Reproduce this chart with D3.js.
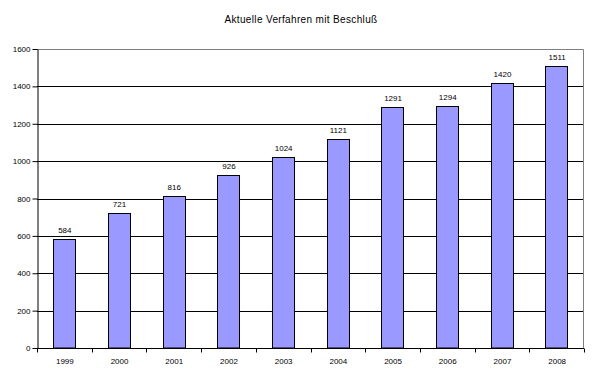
<!DOCTYPE html>
<html>
<head>
<meta charset="utf-8">
<script src="https://cdn.jsdelivr.net/npm/d3@7"></script>
<style>
body { margin: 0; background: #fff; }
text { font-family: "Liberation Sans", Arial, sans-serif; }
</style>
</head>
<body>
<svg width="605" height="377"></svg>
<script>
const years = ["1999", "2000", "2001", "2002", "2003", "2004", "2005", "2006", "2007", "2008"];
const values = [584, 721, 816, 926, 1024, 1121, 1291, 1294, 1420, 1511];
const yTicks = [0, 200, 400, 600, 800, 1000, 1200, 1400, 1600];

const width = 605;
const height = 377;
const margin = { top: 49, right: 21, bottom: 29, left: 37 };

const svg = d3.select("svg");

const x = d3.scaleBand()
    .domain(years)
    .range([margin.left, width - margin.right])
    .paddingInner(0.59)
    .paddingOuter(0.295);

const y = d3.scaleLinear()
    .domain([0, 1600])
    .range([height - margin.bottom, margin.top]);

// title
svg.append("text")
    .attr("x", 301)
    .attr("y", 23)
    .attr("text-anchor", "middle")
    .attr("font-size", 10)
    .attr("letter-spacing", 0.35)
    .text("Aktuelle Verfahren mit Beschluß");

// gridlines
svg.append("g")
    .selectAll("line")
    .data(yTicks.filter(t => t > 0 && t < 1600))
    .enter().append("line")
    .attr("x1", margin.left)
    .attr("x2", width - margin.right)
    .attr("y1", d => Math.round(y(d)) + 0.5)
    .attr("y2", d => Math.round(y(d)) + 0.5)
    .attr("stroke", "#000");

// plot border top/right
svg.append("path")
    .attr("d", `M${margin.left},${y(1600) + 0.5}H${width - margin.right - 0.5}V${y(0)}`)
    .attr("fill", "none")
    .attr("stroke", "#808080");

// bars
svg.append("g")
    .selectAll("rect")
    .data(values)
    .enter().append("rect")
    .attr("x", (d, i) => Math.round(x(years[i])) + 0.5)
    .attr("y", d => Math.round(y(d)) + 0.5)
    .attr("width", Math.round(x.bandwidth()))
    .attr("height", d => y(0) - Math.round(y(d)) - 0.5)
    .attr("fill", "#9999ff")
    .attr("stroke", "#000");

// value labels
svg.append("g")
    .selectAll("text")
    .data(values)
    .enter().append("text")
    .attr("x", (d, i) => x(years[i]) + x.bandwidth() / 2 + 0.5)
    .attr("y", d => y(d) - 6)
    .attr("text-anchor", "middle")
    .attr("font-size", 8)
    .text(d => d);

// y axis
const yAxis = svg.append("g")
    .attr("transform", `translate(${margin.left + 0.5},0)`)
    .call(d3.axisLeft(y).tickValues(yTicks).tickFormat(d3.format("d"))
        .tickSize(5).tickPadding(2).tickSizeOuter(0));
yAxis.select(".domain").attr("stroke", "#000");
yAxis.selectAll("text").attr("font-size", 8).attr("font-family", "Liberation Sans, Arial, sans-serif").attr("fill", "#000");

// x axis
const xAxis = svg.append("g")
    .attr("transform", `translate(0,${y(0) + 0.5})`);
xAxis.append("line")
    .attr("x1", margin.left)
    .attr("x2", width - margin.right)
    .attr("stroke", "#000");
xAxis.selectAll(".tk")
    .data(d3.range(years.length + 1))
    .enter().append("line")
    .attr("x1", i => Math.round(margin.left + i * x.step()) + 0.5)
    .attr("x2", i => Math.round(margin.left + i * x.step()) + 0.5)
    .attr("y1", 0)
    .attr("y2", 4)
    .attr("stroke", "#000");
xAxis.selectAll("text")
    .data(years)
    .enter().append("text")
    .attr("x", d => x(d) + x.bandwidth() / 2 + 0.5)
    .attr("y", 15)
    .attr("text-anchor", "middle")
    .attr("font-size", 8)
    .text(d => d);
</script>
</body>
</html>
